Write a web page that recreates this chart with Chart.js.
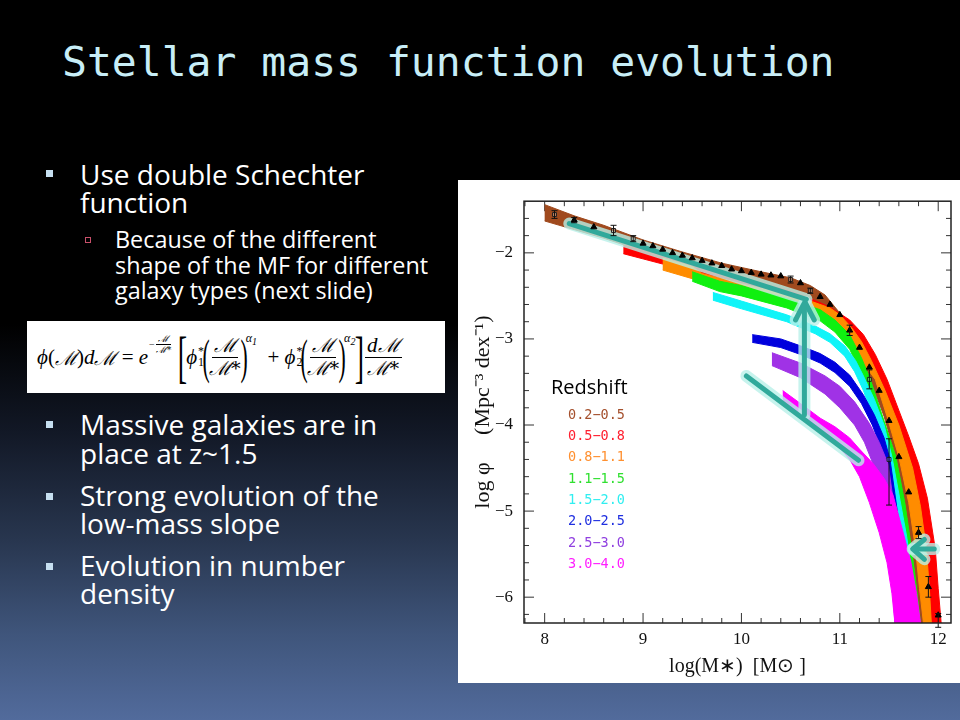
<!DOCTYPE html>
<html>
<head>
<meta charset="utf-8">
<script src="https://cdn.jsdelivr.net/npm/chart.js@4.4.0/dist/chart.umd.min.js"></script>
<style>
html,body{margin:0;padding:0}
body{width:960px;height:720px;overflow:hidden;position:relative;font-family:"Open Sans",sans-serif;color:#fff;
 background:linear-gradient(to bottom,#000 0%,#000 45%,#121826 60%,#28364f 75%,#3f557b 88%,#526b9c 100%)}
#title{position:absolute;left:62px;top:42px;font:41.4px/41px "DejaVu Sans Mono",monospace;color:#c8eef7;white-space:nowrap}
.ln{position:absolute;left:80px;font-size:28px;line-height:28px;white-space:nowrap}
.sub{position:absolute;left:115px;font-size:23.4px;line-height:25px;white-space:nowrap}
.sq{position:absolute;left:46px;width:7px;height:7px;background:#c6dff0}
.hsq{position:absolute;left:85px;width:4px;height:4px;border:1px solid #c8506a}
#formula{position:absolute;left:27px;top:321px;width:418px;height:72px;background:#fff;color:#000;
 font-family:"Liberation Serif",serif;font-size:21px;display:flex;align-items:center;padding-left:10px;box-sizing:border-box;white-space:nowrap}
.sc{font-family:"DejaVu Serif",serif;font-style:italic;font-size:0.92em}
.it{font-style:italic}
.fr{display:inline-flex;flex-direction:column;align-items:center;line-height:1.1;margin:0 1px}
.fr>span:first-child{border-bottom:1px solid #000;padding:0 2px}
.ex{align-self:flex-start;margin-top:13px;font-size:10px;display:inline-flex;align-items:center;margin-left:1px}
.big{font-size:56px;line-height:56px;display:inline-block;transform:scaleX(0.5);margin:0 -5px}
.par{font-size:48px;line-height:48px;display:inline-block;transform:scaleX(0.45);margin:0 -6px}
.pw{align-self:flex-start;margin-top:10px;font-size:12px;font-style:italic}
.ss{display:inline-flex;flex-direction:column;font-size:12px;line-height:11px;margin-left:1px}
#panel{position:absolute;left:458px;top:180px;width:502px;height:503px;background:#fff}
</style>
</head>
<body>
<div id="title">Stellar mass function evolution</div>

<div class="sq" style="top:170px"></div>
<div class="ln" style="top:160px">Use double Schechter</div>
<div class="ln" style="top:188px">function</div>
<div class="hsq" style="top:237px"></div>
<div class="sub" style="top:227px">Because of the different</div>
<div class="sub" style="top:253px">shape of the MF for different</div>
<div class="sub" style="top:278px">galaxy types (next slide)</div>

<div id="formula">
 <span class="it">ϕ</span>(<span class="sc">ℳ</span>)<span class="it">d</span><span class="sc">ℳ</span>&nbsp;=&nbsp;<span class="it">e</span><span class="ex">−<span class="fr"><span class="sc">ℳ</span><span class="sc">ℳ*</span></span></span>
 &nbsp;<span class="big">[</span><span class="it">ϕ</span><span class="ss"><span>*</span><span>1</span></span>
 <span class="par">(</span><span class="fr"><span class="sc">ℳ</span><span class="sc">ℳ*</span></span><span class="par">)</span><span class="pw">α<sub>1</sub></span>
 &nbsp;&nbsp;+&nbsp;<span class="it">ϕ</span><span class="ss"><span>*</span><span>2</span></span>
 <span class="par">(</span><span class="fr"><span class="sc">ℳ</span><span class="sc">ℳ*</span></span><span class="par">)</span><span class="pw">α<sub>2</sub></span>
 <span class="big">]</span>
 <span class="fr"><span><span class="it">d</span><span class="sc">ℳ</span></span><span class="sc">ℳ*</span></span>
</div>

<div class="sq" style="top:421px"></div>
<div class="ln" style="top:410px">Massive galaxies are in</div>
<div class="ln" style="top:439px">place at z~1.5</div>
<div class="sq" style="top:493px"></div>
<div class="ln" style="top:481px">Strong evolution of the</div>
<div class="ln" style="top:509px">low-mass slope</div>
<div class="sq" style="top:563px"></div>
<div class="ln" style="top:551px">Evolution in number</div>
<div class="ln" style="top:579px">density</div>

<div id="panel"><canvas id="myChart"></canvas></div>

<script>
// redshift bins, legend order
const redshiftLabels = ['0.2\u22120.5','0.5\u22120.8','0.8\u22121.1','1.1\u22121.5','1.5\u22122.0','2.0\u22122.5','2.5\u22123.0','3.0\u22124.0'];
const redshiftText = ['#a5502d','#ff2030','#ff9030','#30e030','#30eef0','#2030e0','#9040e0','#ff20ff'];
const bandColors = ['#a04a1e','#ff0000','#ff8c00','#10f010','#10f4f8','#0000dd','#a032e6','#ff00ff'];

// band edges [log M, log phi], upper/right edge and lower/left edge
const brownTop = [[8.0,-1.44],[8.3,-1.57],[8.6,-1.68],[9.0,-1.85],[9.4,-1.99],[9.8,-2.12],[10.2,-2.22],[10.5,-2.29],[10.7,-2.38],[10.85,-2.49],[11.0,-2.70],[11.1,-2.85],[11.3,-3.25],[11.45,-3.7],[11.62,-4.37],[11.72,-4.9],[11.8,-5.44],[11.84,-5.9],[11.87,-6.3]];
const brownBottom = [[8.0,-1.63],[8.3,-1.73],[8.6,-1.83],[9.0,-1.98],[9.4,-2.12],[9.8,-2.25],[10.2,-2.36],[10.5,-2.45],[10.7,-2.55],[10.9,-2.70],[11.05,-2.88],[11.2,-3.12],[11.31,-3.47],[11.45,-3.9],[11.57,-4.37],[11.66,-4.9],[11.73,-5.44],[11.78,-5.9],[11.82,-6.3]];
const redTop = [[8.8,-1.91],[9.2,-2.02],[9.6,-2.17],[10.0,-2.30],[10.46,-2.43],[10.7,-2.53],[10.9,-2.63],[11.1,-2.78],[11.24,-2.95],[11.36,-3.18],[11.48,-3.47],[11.6,-3.83],[11.7,-4.13],[11.8,-4.45],[11.89,-4.85],[11.97,-5.44],[12.0,-5.9],[12.03,-6.3]];
const redBottom = [[8.8,-2.01],[9.2,-2.13],[9.6,-2.26],[10.0,-2.40],[10.5,-2.56],[10.9,-2.75],[11.1,-2.92],[11.25,-3.12],[11.4,-3.45],[11.55,-3.9],[11.7,-4.5],[11.8,-5.0],[11.88,-5.6],[11.93,-6.3]];
const orangeTop = [[9.2,-2.06],[9.5,-2.16],[9.6,-2.24],[10.0,-2.36],[10.46,-2.48],[10.7,-2.56],[10.9,-2.64],[11.0,-2.72],[11.12,-2.87],[11.22,-3.03],[11.32,-3.25],[11.46,-3.6],[11.6,-4.0],[11.74,-4.5],[11.82,-4.95],[11.88,-5.44],[11.91,-5.9],[11.93,-6.3]];
const orangeBottom = [[9.2,-2.20],[9.5,-2.30],[10.0,-2.46],[10.5,-2.62],[10.8,-2.76],[11.0,-2.92],[11.15,-3.12],[11.25,-3.3],[11.36,-3.47],[11.48,-3.9],[11.6,-4.37],[11.7,-4.9],[11.77,-5.44],[11.81,-5.9],[11.85,-6.3]];
const greenTop = [[9.5,-2.22],[9.78,-2.33],[10.0,-2.38],[10.46,-2.53],[10.8,-2.66],[10.95,-2.78],[11.1,-2.95],[11.22,-3.22],[11.31,-3.47],[11.42,-3.85],[11.57,-4.37],[11.66,-4.9],[11.73,-5.44],[11.78,-5.9],[11.82,-6.3]];
const greenBottom = [[9.5,-2.33],[9.78,-2.45],[10.0,-2.50],[10.46,-2.64],[10.8,-2.79],[10.95,-2.92],[11.1,-3.12],[11.24,-3.45],[11.35,-3.78],[11.45,-4.1],[11.53,-4.5],[11.6,-4.9],[11.68,-5.44],[11.74,-5.9],[11.78,-6.3]];
const cyanTop = [[9.71,-2.46],[10.0,-2.56],[10.46,-2.72],[10.75,-2.85],[10.9,-2.94],[11.05,-3.08],[11.16,-3.25],[11.24,-3.43],[11.35,-3.7],[11.45,-4.0],[11.53,-4.37],[11.6,-4.8],[11.68,-5.3],[11.74,-5.8],[11.8,-6.3]];
const cyanBottom = [[9.71,-2.55],[10.0,-2.65],[10.46,-2.80],[10.75,-2.94],[10.9,-3.04],[11.05,-3.2],[11.15,-3.38],[11.24,-3.6],[11.32,-3.85],[11.42,-4.15],[11.49,-4.5],[11.55,-4.9],[11.62,-5.4],[11.68,-5.9],[11.72,-6.3]];
const blueTop = [[10.11,-2.95],[10.4,-3.0],[10.6,-3.08],[10.8,-3.17],[10.95,-3.27],[11.1,-3.42],[11.24,-3.65],[11.35,-3.88],[11.45,-4.15],[11.51,-4.4],[11.56,-4.8],[11.62,-5.3],[11.7,-5.8],[11.76,-6.3]];
const blueBottom = [[10.11,-3.04],[10.4,-3.10],[10.6,-3.18],[10.8,-3.28],[10.95,-3.39],[11.1,-3.55],[11.22,-3.75],[11.33,-4.0],[11.42,-4.27],[11.48,-4.5],[11.52,-4.9],[11.56,-5.3],[11.6,-5.8],[11.63,-6.3]];
const purpleTop = [[10.31,-3.16],[10.6,-3.28],[10.85,-3.43],[11.0,-3.55],[11.15,-3.73],[11.3,-3.98],[11.4,-4.2],[11.49,-4.45],[11.54,-4.85],[11.6,-5.3],[11.67,-5.8],[11.74,-6.3]];
const purpleBottom = [[10.31,-3.31],[10.6,-3.45],[10.85,-3.64],[11.0,-3.8],[11.15,-4.0],[11.25,-4.2],[11.33,-4.43],[11.42,-4.85],[11.48,-5.3],[11.53,-5.8],[11.56,-6.3]];
const magentaTop = [[10.42,-3.60],[10.6,-3.75],[10.8,-3.92],[10.95,-4.02],[11.1,-4.15],[11.2,-4.28],[11.34,-4.45],[11.45,-4.62],[11.54,-4.81],[11.63,-5.19],[11.72,-5.58],[11.78,-5.96],[11.82,-6.3]];
const magentaBottom = [[10.42,-3.74],[10.6,-3.88],[10.8,-4.07],[10.95,-4.2],[11.1,-4.4],[11.2,-4.6],[11.3,-4.9],[11.4,-5.25],[11.48,-5.6],[11.53,-5.96],[11.56,-6.3]];

// z = 0.2-0.5 measurements
const triMass = [8.3,8.5,9.0,9.1,9.2,9.3,9.4,9.5,9.6,9.7,9.8,9.9,10.0,10.1,10.2,10.3,10.4,10.6,10.8,10.9,11.0,11.1,11.2,11.3,11.4,11.5,11.6,11.7,11.8,11.9,12.0];
const triPhi = [-1.62,-1.70,-1.89,-1.92,-1.96,-2.00,-2.03,-2.06,-2.09,-2.12,-2.15,-2.19,-2.21,-2.23,-2.25,-2.26,-2.27,-2.35,-2.51,-2.60,-2.72,-2.90,-3.10,-3.33,-3.60,-3.95,-4.37,-4.78,-5.25,-5.88,-6.21];
const sqMass = [8.1,8.7,8.9,10.5,10.7,11.3,11.5];
const sqPhi = [-1.555,-1.74,-1.835,-2.31,-2.44,-3.47,-4.40];
const errMass = [8.1,8.3,8.7,8.9,10.5,10.7,11.1,11.3,11.5,11.8,11.9,12.0];
const errLow = [-1.60,-1.65,-1.80,-1.87,-2.35,-2.47,-2.96,-3.58,-4.93,-5.32,-6.00,-6.35];
const errHigh = [-1.51,-1.59,-1.68,-1.80,-2.27,-2.41,-2.84,-3.36,-4.16,-5.18,-5.76,-6.19];

// hand-drawn teal annotations
const tealPaths = [
  [[8.25,-1.66],[10.66,-2.54]],
  [[10.64,-3.88],[10.64,-2.62]],
  [[10.55,-2.78],[10.645,-2.57],[10.74,-2.78]],
  [[10.05,-3.43],[11.19,-4.41]],
  [[11.96,-5.44],[11.75,-5.44]],
  [[11.86,-5.33],[11.74,-5.44],[11.86,-5.56]]
];

function pts(arr) { return arr.map(function(p){ return {x: p[0], y: p[1]}; }); }

const bandEdges = [
  [brownTop, brownBottom], [redTop, redBottom], [orangeTop, orangeBottom], [greenTop, greenBottom],
  [cyanTop, cyanBottom], [blueTop, blueBottom], [purpleTop, purpleBottom], [magentaTop, magentaBottom]
];

const datasets = [];
// first dataset is drawn on top
datasets.push({data: triMass.map(function(m,i){ return {x: m, y: triPhi[i]}; }), showLine: false,
  pointStyle: 'triangle', pointRadius: 3.5, backgroundColor: '#000', borderColor: '#000', borderWidth: 1});
datasets.push({data: sqMass.map(function(m,i){ return {x: m, y: sqPhi[i]}; }), showLine: false,
  pointStyle: 'rect', pointRadius: 2.8, backgroundColor: 'rgba(255,255,255,0.3)', borderColor: '#222', borderWidth: 1});
tealPaths.forEach(function(path){
  datasets.push({data: pts(path), borderColor: '#31a99b', borderWidth: 5, borderCapStyle: 'round', borderJoinStyle: 'round', pointRadius: 0, fill: false});
});
tealPaths.forEach(function(path){
  datasets.push({data: pts(path), borderColor: 'rgba(185,240,232,0.8)', borderWidth: 12, borderCapStyle: 'round', borderJoinStyle: 'round', pointRadius: 0, fill: false});
});
for (let i = bandEdges.length - 1; i >= 0; i--) {
  const poly = bandEdges[i][0].concat(bandEdges[i][1].slice().reverse());
  datasets.push({data: pts(poly), borderColor: bandColors[i], backgroundColor: bandColors[i], borderWidth: 1,
    pointRadius: 0, fill: 'shape', tension: 0});
}

const frameTicks = {
  id: 'frameTicks',
  beforeDatasetsDraw(chart) {
    const {ctx, chartArea: a, scales: {x, y}} = chart;
    ctx.save();
    ctx.strokeStyle = '#333';
    ctx.lineWidth = 1;
    ctx.beginPath();
    for (let i = 39; i <= 60; i++) {
      const px = x.getPixelForValue(i / 5), len = i % 5 === 0 ? 10 : 5;
      ctx.moveTo(px, a.bottom); ctx.lineTo(px, a.bottom - len);
      ctx.moveTo(px, a.top); ctx.lineTo(px, a.top + len);
    }
    for (let i = -31; i <= -8; i++) {
      const py = y.getPixelForValue(i / 5), len = i % 5 === 0 ? 10 : 5;
      ctx.moveTo(a.left, py); ctx.lineTo(a.left + len, py);
      ctx.moveTo(a.right, py); ctx.lineTo(a.right - len, py);
    }
    ctx.stroke();
    ctx.restore();
  },
  afterDatasetsDraw(chart) {
    const {ctx, chartArea: a, scales: {x, y}} = chart;
    ctx.save();
    // error bars
    ctx.strokeStyle = '#111';
    ctx.lineWidth = 1;
    ctx.beginPath();
    errMass.forEach(function(m, i){
      const px = x.getPixelForValue(m), lo = y.getPixelForValue(errLow[i]), hi = y.getPixelForValue(errHigh[i]);
      ctx.moveTo(px, lo); ctx.lineTo(px, hi);
      ctx.moveTo(px - 3, lo); ctx.lineTo(px + 3, lo);
      ctx.moveTo(px - 3, hi); ctx.lineTo(px + 3, hi);
    });
    ctx.stroke();
    ctx.lineWidth = 1.5;
    ctx.strokeStyle = '#222';
    ctx.strokeRect(a.left, a.top, a.width, a.height);
    // legend
    ctx.fillStyle = '#000';
    ctx.font = '20px "Open Sans"';
    ctx.textBaseline = 'alphabetic';
    ctx.fillText('Redshift', a.left + 27, a.top + 193);
    ctx.font = '13.5px "DejaVu Sans Mono"';
    ctx.textBaseline = 'middle';
    redshiftLabels.forEach(function(t, i){
      ctx.fillStyle = redshiftText[i];
      ctx.fillText(t, a.left + 44, a.top + 214 + i * 21.3);
    });
    ctx.restore();
  }
};

const ctx = document.getElementById('myChart').getContext('2d');
const chart = new Chart(ctx, {
  type: 'line',
  data: {datasets: datasets},
  options: {
    responsive: true,
    maintainAspectRatio: false,
    animation: false,
    events: [],
    layout: {padding: {top: 17, right: 9, left: 0, bottom: 0}},
    plugins: {legend: {display: false}, tooltip: {enabled: false}},
    scales: {
      x: {
        type: 'linear', min: 7.79, max: 12.13,
        grid: {display: false, drawTicks: false},
        border: {display: false},
        ticks: {stepSize: 1, includeBounds: false, padding: 6, color: '#111', font: {family: 'Liberation Serif', size: 17}},
        title: {display: true, text: 'log(M\u2217)  [M\u2299 ]', color: '#111', font: {family: 'Liberation Serif', size: 20}, padding: {top: 0, bottom: 4}},
        afterFit: function(s){ s.height = 60; }
      },
      y: {
        type: 'linear', min: -6.3, max: -1.4,
        grid: {display: false, drawTicks: false},
        border: {display: false},
        ticks: {stepSize: 1, includeBounds: false, padding: 11, color: '#111', font: {family: 'Liberation Serif', size: 17},
          callback: function(v){ return '\u2212' + Math.abs(v); }},
        title: {display: true, text: 'log \u03c6     (Mpc\u207b\u00b3 dex\u207b\u00b9)', color: '#111', font: {family: 'Liberation Serif', size: 22}, padding: {top: 12, bottom: 0}},
        afterFit: function(s){ s.width = 66; }
      }
    }
  },
  plugins: [frameTicks]
});
</script>
</body>
</html>
